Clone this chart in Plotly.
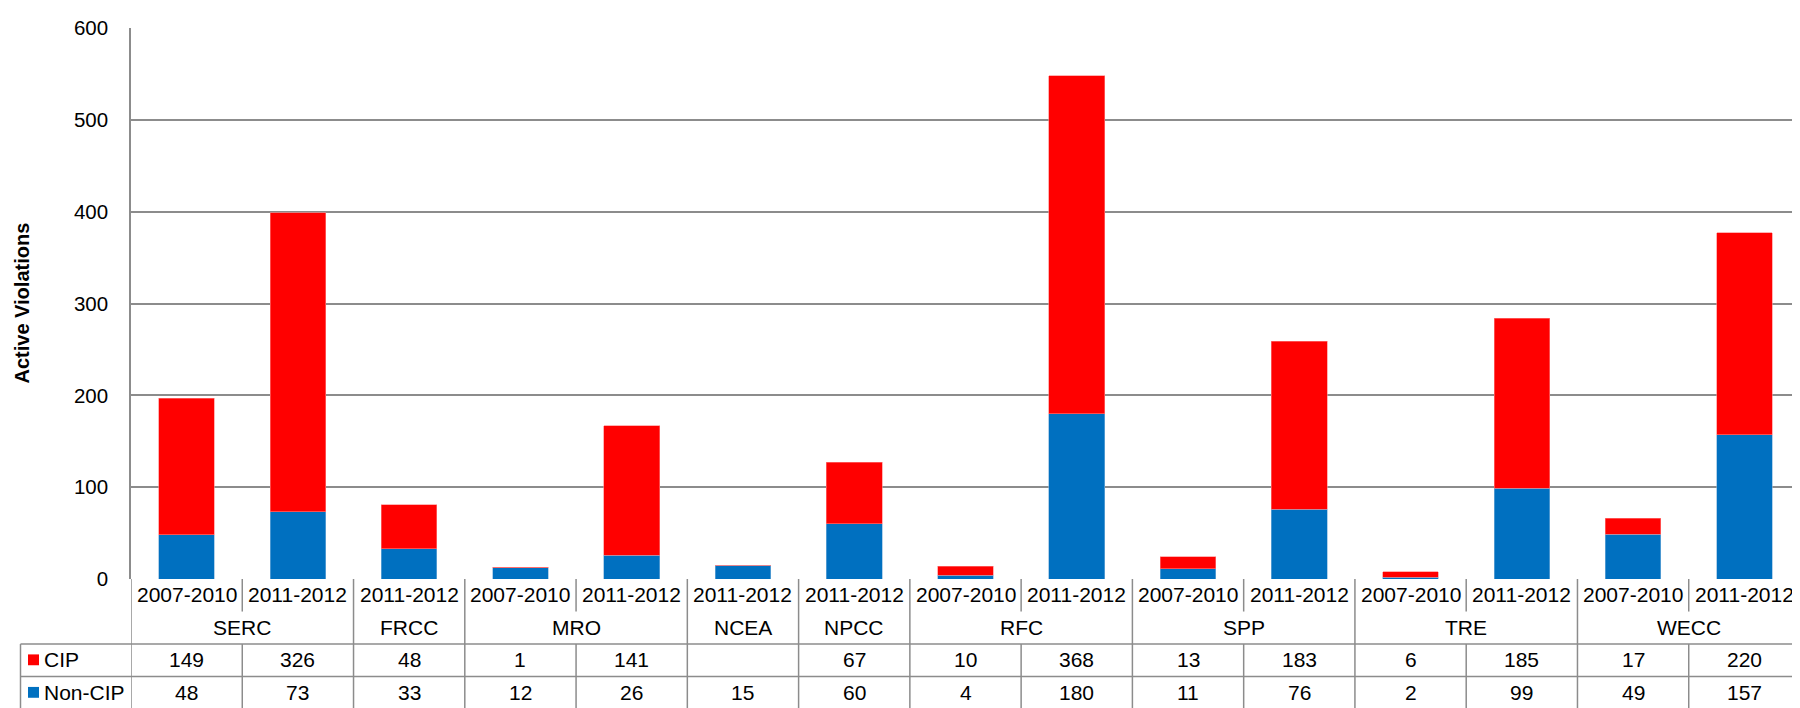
import plotly.graph_objects as go

# ---- data ----
regions = ["SERC", "SERC", "FRCC", "MRO", "MRO", "NCEA", "NPCC", "RFC", "RFC",
           "SPP", "SPP", "TRE", "TRE", "WECC", "WECC"]
periods = ["2007-2010", "2011-2012", "2011-2012", "2007-2010", "2011-2012", "2011-2012",
           "2011-2012", "2007-2010", "2011-2012", "2007-2010", "2011-2012", "2007-2010",
           "2011-2012", "2007-2010", "2011-2012"]
cip = [149, 326, 48, 1, 141, None, 67, 10, 368, 13, 183, 6, 185, 17, 220]
non_cip = [48, 73, 33, 12, 26, 15, 60, 4, 180, 11, 76, 2, 99, 49, 157]
series_names = ["CIP", "Non-CIP"]
y_ticks = [0, 100, 200, 300, 400, 500, 600]

# ---- styling ----
OFF = 8  # default page body margin in the browser
W, H = 1800, 708
PAGE_L, PAGE_T, PAGE_R, PAGE_B = 131, 20, 1800, 579   # plot area in page pixels
ML, MT = PAGE_L - OFF, PAGE_T - OFF
MR = W - (PAGE_R - OFF)
MB = H - (PAGE_B - OFF)
PW, PH = W - ML - MR, H - MT - MB
RED, BLUE = "#FF0000", "#0070C0"
GRID = "#8c8c8c"
FONT = "Liberation Sans, Arial, sans-serif"
FS = 21

def yp(py):  # page pixel y -> paper y
    return (PAGE_B - py) / PH

def xp(px):  # page pixel x -> paper x
    return (px - PAGE_L) / PW

n = len(regions)
xs = list(range(n))

fig = go.Figure()
fig.add_trace(go.Bar(x=xs, y=non_cip, name=series_names[1], marker_color=BLUE,
                     marker_line=dict(width=0.6, color="#7fb3dc"), width=0.5))
fig.add_trace(go.Bar(x=xs, y=[v if v is not None else 0 for v in cip], name=series_names[0],
                     marker_color=RED, marker_line=dict(width=0.6, color="#ff8080"), width=0.5))

shapes = []
annotations = []

def vline(x, py0, py1, xref="x"):
    shapes.append(dict(type="line", xref=xref, yref="paper", x0=x, x1=x,
                       y0=yp(py0), y1=yp(py1), line=dict(color=GRID, width=1.5)))

def hline(px0, py):
    shapes.append(dict(type="line", xref="paper", yref="paper", x0=xp(px0), x1=1,
                       y0=yp(py), y1=yp(py), line=dict(color=GRID, width=1.5)))

Y0, R1, R2, R3, R4 = PAGE_B, 612, 645, 678, 712

# table rows boundaries
hline(20.5, R2)
hline(20.5, R3)
hline(20.5, R4)
# left boundary of table / axis extension
vline(-0.5, Y0, R4)
vline(xp(20.5), R2, R4, xref="paper")

# column separators
for i in range(n - 1):
    b = i + 0.5
    if regions[i] != regions[i + 1]:
        vline(b, Y0, R4)
    else:
        vline(b, Y0, R1)
        vline(b, R2, R4)

def txt(x, py, s, xref="x", xanchor="center", size=FS):
    annotations.append(dict(x=x, y=yp(py), xref=xref, yref="paper", text=s,
                            showarrow=False, xanchor=xanchor, yanchor="middle",
                            font=dict(family=FONT, size=size, color="black")))

# period row
for i in range(n):
    txt(i, 595, periods[i])

# region row
groups = []
for i, r in enumerate(regions):
    if groups and groups[-1][0] == r:
        groups[-1][2] = i
    else:
        groups.append([r, i, i])
for r, a, b in groups:
    txt((a + b) / 2, 628, r)

# value rows
for i in range(n):
    txt(i, 661, "" if cip[i] is None else str(cip[i]))
    txt(i, 694, "" if non_cip[i] is None else str(non_cip[i]))

# legend keys
for name, col, c in [(series_names[0], RED, 661), (series_names[1], BLUE, 694)]:
    shapes.append(dict(type="rect", xref="paper", yref="paper", x0=xp(28), x1=xp(39),
                       y0=yp(c + 5.5), y1=yp(c - 5.5), fillcolor=col, line=dict(width=0)))
    txt(xp(42), c, name, xref="paper", xanchor="left")

# y axis title
annotations.append(dict(x=xp(21), y=0.5, xref="paper", yref="paper",
                        text="<b>Active Violations</b>", textangle=-90, showarrow=False,
                        xanchor="center", yanchor="middle",
                        font=dict(family=FONT, size=20, color="black")))

fig.update_layout(
    width=W, height=H, barmode="stack", showlegend=False,
    margin=dict(l=ML, r=MR, t=MT, b=MB),
    plot_bgcolor="white", paper_bgcolor="white",
    font=dict(family=FONT, size=FS, color="black"),
    xaxis=dict(range=[-0.5, n - 0.5], showticklabels=False, showgrid=False,
               zeroline=False, showline=False, fixedrange=True),
    yaxis=dict(range=[0, 600], tickvals=y_ticks, showgrid=True, gridcolor=GRID,
               gridwidth=1.5, zeroline=False, showline=True, linecolor=GRID, linewidth=1.5,
               ticks="", ticklabelstandoff=17,
               tickfont=dict(family=FONT, size=20.5, color="black")),
    shapes=shapes, annotations=annotations,
)

fig.write_html("out.html")
